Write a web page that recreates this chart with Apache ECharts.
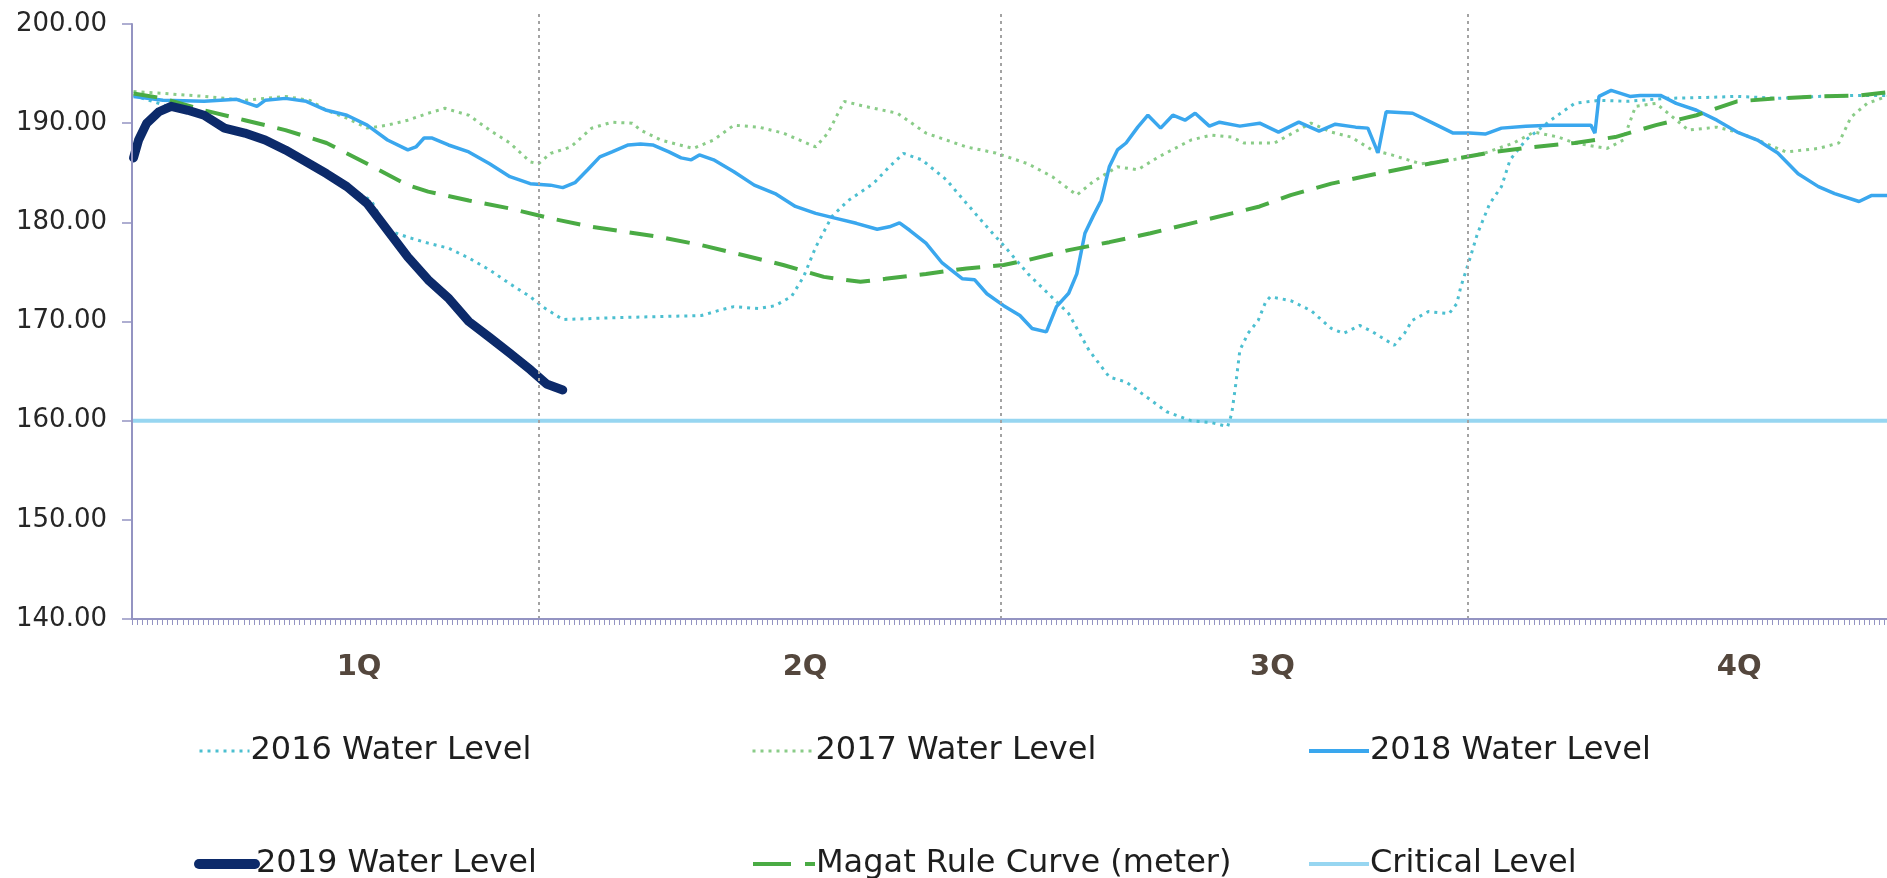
<!DOCTYPE html>
<html>
<head>
<meta charset="utf-8">
<script src="https://cdn.jsdelivr.net/npm/echarts@6/dist/echarts.min.js"></script>
<style>
html,body{margin:0;padding:0;background:#ffffff;}
#chart{width:1887px;height:878px;}
</style>
</head>
<body>
<div id="chart"></div>
<script>
// ---------- data (x = day of year, y = water level in metres) ----------
const quarterLabels = ['1Q', '2Q', '3Q', '4Q'];
const quarterLabelDays = [54.7, 142.5, 234.5, 326.4];
const quarterBoundaryDays = [90, 181, 273];
const criticalLevel = 160;

const days2016 = [10.3,14,17.7,21,24.2,28.2,32.2,36.2,40.2,44.3,48.3,52.3,57.1,60.3,64.3,68.3,72.3,76.3,80.4,84.4,88.4,90.8,94.8,100.5,106,114.1,122.1,125.4,128.5,133.4,136.6,139.8,142.2,144.6,147.8,151,155.9,159.1,161.9,165.5,170.3,174.3,178.3,182.4,186.4,190.4,194.4,198.4,202.4,205.7,208.9,213.7,218.5,222.5,225.7,226.5,227.3,228.1,229.7,231.7,233.2,234.1,238.1,242.1,246.1,248.5,251.7,254.1,258.5,260.5,262,265.2,269.3,270.8,271.6,273.3,274.9,277.3,279.6,281.3,284.4,289.3,294,298.8,304.5,312,320,326,334,342,350,355.5];
const level2016 = [192.8,192.2,191.6,191.2,190.7,189.5,189.0,188.3,187.3,186.1,184.9,183.6,182.2,179.2,178.5,177.9,177.4,176.4,175.2,173.8,172.5,171.5,170.2,170.3,170.4,170.5,170.6,171.1,171.5,171.3,171.6,172.5,174.5,177.5,180.6,182.2,183.9,185.6,186.95,186.3,184.3,181.9,179.55,177.2,174.8,172.8,170.8,167.1,164.4,163.9,162.7,160.9,160.0,159.8,159.4,160.7,163.7,167.1,168.8,170.1,172.0,172.5,172.1,171.1,169.3,168.8,169.6,169.0,167.6,168.8,170.1,171.0,170.8,171.8,173.5,176.2,178.9,181.9,183.6,186.3,188.3,190.3,192.0,192.3,192.2,192.5,192.6,192.7,192.5,192.7,192.8,192.8];

const days2017 = [10.3,16.1,24.2,32.2,36.2,40.2,45,48.3,52.3,56.3,60.3,64.3,68.3,71.6,76.3,80.4,84.4,88.4,90,92.4,96.4,100.5,104.5,108.5,110.1,114.1,120.5,124.5,128.5,133.4,138.2,144.6,147,150.2,154.2,160.7,166.3,174.3,180,186.4,191.2,196,199.2,204,208,212.1,218.5,222.5,226.5,228.9,234.9,242.1,246.1,250,254.1,258,263.7,270,276.4,282,286,290.8,294,300.4,303.6,306,310,312.4,316.4,322,326,330,335.6,342,346,348.4,351.6,355.5];
const level2017 = [193.2,193.0,192.7,192.3,192.5,192.7,192.3,191.3,190.5,189.5,189.8,190.3,191.0,191.5,190.8,189.3,188.0,186.1,185.9,186.95,187.6,189.5,190.1,190.0,189.3,188.3,187.45,188.3,189.8,189.6,189.0,187.6,189.0,192.2,191.7,191.0,189.0,187.6,187.0,185.9,184.6,182.75,184.1,185.6,185.3,186.6,188.3,188.8,188.6,188.0,188.0,190.0,189.1,188.6,187.3,186.8,185.9,186.3,187.0,188.0,189.1,188.6,188.0,187.45,188.3,191.7,192.0,191.0,189.3,189.6,189.1,188.3,187.1,187.45,188.0,190.6,192.0,192.7];

const days2018 = [10.3,16.1,24.2,30.6,34.6,36.2,40.2,44.3,48.3,52.3,56.3,60.3,64.3,65.9,67.5,69.1,72.3,76.3,80.4,84.4,88.4,92.4,94.8,97.2,99.7,102.1,104.5,107.7,110.1,112.5,115.7,118.1,120.1,121.7,124.5,128.5,132.5,136.6,140.6,144.6,148.6,152.6,156.7,159.1,161.1,163.1,166.3,169.5,173.5,175.9,178.3,181.6,184.8,187.2,190,192,194.4,196,197.6,199.2,200.8,202.4,204,205.7,208,210,212.5,214.9,217.3,219.3,222.1,224.1,228.1,232,235.7,239.7,243.7,246.9,250.9,253.3,255.3,256.9,262.1,266.1,270.1,273.3,276.4,279.6,284.4,289.3,297.2,298,298.8,301.2,304.9,306.9,310.9,314,318,322,326,330,334,338,342,345.2,350,352.4,355.5];
const level2018 = [192.7,192.3,192.2,192.4,191.7,192.3,192.5,192.2,191.3,190.8,189.8,188.3,187.3,187.6,188.5,188.5,187.8,187.1,185.9,184.6,183.9,183.75,183.5,184.0,185.3,186.6,187.1,187.8,187.9,187.8,187.1,186.5,186.3,186.8,186.3,185.1,183.75,182.9,181.6,180.9,180.4,179.9,179.3,179.55,179.95,179.2,177.9,175.9,174.3,174.2,172.8,171.6,170.6,169.3,168.95,171.5,172.85,174.8,178.9,180.6,182.2,185.6,187.3,188.0,189.6,190.8,189.5,190.8,190.3,191.0,189.7,190.1,189.7,190.0,189.1,190.1,189.2,189.9,189.6,189.5,187.0,191.15,191.0,190.0,189.0,189.0,188.9,189.5,189.7,189.8,189.8,189.0,192.7,193.3,192.7,192.8,192.8,192.0,191.3,190.3,189.1,188.3,187.0,184.9,183.6,182.9,182.1,182.7,182.7];

const days2019 = [10.3,11.3,12.9,15.3,17.7,21,24.2,28.2,32.2,36.2,40.2,44.3,48.3,52.3,56.3,60.3,64.3,68.3,72.4,76.3,80.4,84.4,88.5,91.6,94.8];
const level2019 = [186.5,188.3,190.0,191.15,191.7,191.3,190.8,189.5,189.0,188.3,187.3,186.1,184.9,183.6,181.9,179.2,176.5,174.2,172.3,170.0,168.4,166.8,165.1,163.7,163.1];

const daysRule = [10.3,16.1,24.2,32.2,40.2,48.3,56.3,64.3,68.3,76.3,84.4,92.4,100.5,107.7,114.1,122.1,130.2,138.2,146.2,153.4,158.3,166.3,174.3,181.6,186.4,194.4,202.4,210.5,218.5,226.5,232,238.1,246.1,254.1,262,270,278,286,294,302,310,318,326,334,342,350,355.5];
const levelRule = [193.0,192.5,191.3,190.3,189.3,188.0,185.9,183.75,183.1,182.2,181.4,180.4,179.55,179.0,178.5,177.7,176.7,175.7,174.5,174.0,174.3,174.8,175.35,175.7,176.2,177.2,178.0,178.9,179.9,180.9,181.6,182.75,183.9,184.8,185.6,186.35,187.1,187.6,188.0,188.6,189.8,190.8,192.2,192.5,192.7,192.8,193.1];

const xStart = 10, xEnd = 355.5;

// ---------- helpers ----------
function zip(xs, ys) { return xs.map((x, i) => [x, ys[i]]); }
const dailyTicks = [];
for (let d = xStart; d <= xEnd; d++) dailyTicks.push(d);

const FONT = '"DejaVu Sans", sans-serif';
const axisColor = '#9494c2';

const C2016 = '#4cbfd0';
const C2017 = '#8acc88';
const C2018 = '#3aa7ee';
const C2019 = '#0c2a6a';
const CRULE = '#4aab44';
const CCRIT = '#97d6f1';

const names = ['2016 Water Level', '2017 Water Level', '2018 Water Level',
               '2019 Water Level', 'Magat Rule Curve (meter)', 'Critical Level'];

function legendAt(left, top, name, itemWidth, lineStyle) {
  return {
    left: left, top: top,
    orient: 'horizontal',
    itemWidth: itemWidth, itemHeight: 4,
    selectedMode: false,
    textStyle: { fontFamily: FONT, fontSize: 32, color: '#1e1e1e', padding: [0, 0, 0, -4] },
    data: [{
      name: name,
      lineStyle: lineStyle,
      itemStyle: { color: 'rgba(0,0,0,0)', borderWidth: 0, opacity: 0 }
    }]
  };
}

const chart = echarts.init(document.getElementById('chart'), null, { renderer: 'canvas' });

const option = {
  animation: false,
  backgroundColor: '#ffffff',
  grid: [
    { left: 132, right: 0, top: 24, bottom: 259, containLabel: false },
    // taller helper grid, used only for the quarter-boundary guide lines
    { left: 132, right: 0, top: 10, bottom: 259, containLabel: false }
  ],
  xAxis: [{
    type: 'value',
    min: xStart, max: xEnd,
    axisLine: { show: true, lineStyle: { color: axisColor, width: 2 } },
    axisTick: { show: true, customValues: dailyTicks, length: 6, lineStyle: { color: axisColor, width: 1 } },
    axisLabel: {
      show: true,
      customValues: quarterLabelDays,
      formatter: function (v) {
        const i = quarterLabelDays.findIndex(d => Math.abs(d - v) < 0.01);
        return i >= 0 ? quarterLabels[i] : '';
      },
      margin: 34,
      fontFamily: FONT, fontSize: 29, fontWeight: 'bold', color: '#54473d'
    },
    splitLine: { show: false },
    z: 5
  }, {
    gridIndex: 1, type: 'value', min: xStart, max: xEnd, show: false
  }],
  yAxis: [{
    type: 'value',
    min: 140, max: 200, interval: 10,
    axisLine: { show: true, lineStyle: { color: axisColor, width: 2 } },
    axisTick: { show: true, length: 10, lineStyle: { color: axisColor, width: 1.5 } },
    axisLabel: {
      margin: 25,
      formatter: v => v.toFixed(2),
      fontFamily: FONT, fontSize: 26, color: '#262626'
    },
    splitLine: { show: false },
    z: 5
  }, {
    gridIndex: 1, type: 'value', min: 0, max: 1, show: false
  }],
  legend: [
    legendAt(193, 730, names[0], 50, { width: 3 }),
    legendAt(746, 730, names[1], 62, { width: 3 }),
    legendAt(1302, 730, names[2], 60, { width: 4 }),
    legendAt(189, 843, names[3], 56, { width: 10 }),
    legendAt(746, 843, names[4], 62, { width: 4, type: [38, 14] }),
    legendAt(1302, 843, names[5], 60, { width: 4 })
  ],
  series: [
    {
      // quarter boundary guide lines
      type: 'line', name: '_guides', xAxisIndex: 1, yAxisIndex: 1,
      silent: true, symbol: 'none', z: 0,
      data: [[xStart, 0]],
      lineStyle: { opacity: 0 },
      markLine: {
        silent: true, symbol: ['none', 'none'],
        label: { show: false },
        lineStyle: { color: '#a3a3a3', type: [3, 4], width: 2 },
        data: quarterBoundaryDays.map(d => ({ xAxis: d }))
      }
    },
    {
      name: names[5], type: 'line', symbol: 'none', z: 1,
      data: [[xStart, criticalLevel], [xEnd, criticalLevel]],
      lineStyle: { color: CCRIT, width: 4 }, itemStyle: { color: CCRIT }
    },
    {
      name: names[0], type: 'line', symbol: 'none', z: 2,
      data: zip(days2016, level2016),
      lineStyle: { color: C2016, width: 3, type: [3, 5] }, itemStyle: { color: C2016 }
    },
    {
      name: names[1], type: 'line', symbol: 'none', z: 2,
      data: zip(days2017, level2017),
      lineStyle: { color: C2017, width: 3, type: [3, 5] }, itemStyle: { color: C2017 }
    },
    {
      name: names[2], type: 'line', symbol: 'none', z: 3,
      data: zip(days2018, level2018),
      lineStyle: { color: C2018, width: 3.5 }, itemStyle: { color: C2018 }
    },
    {
      name: names[4], type: 'line', symbol: 'none', z: 3,
      data: zip(daysRule, levelRule),
      lineStyle: { color: CRULE, width: 4, type: [24, 13] }, itemStyle: { color: CRULE }
    },
    {
      name: names[3], type: 'line', symbol: 'none', z: 4,
      data: zip(days2019, level2019),
      lineStyle: { color: C2019, width: 9, cap: 'round', join: 'round' }, itemStyle: { color: C2019 }
    }
  ]
};
chart.setOption(option);
</script>
</body>
</html>
